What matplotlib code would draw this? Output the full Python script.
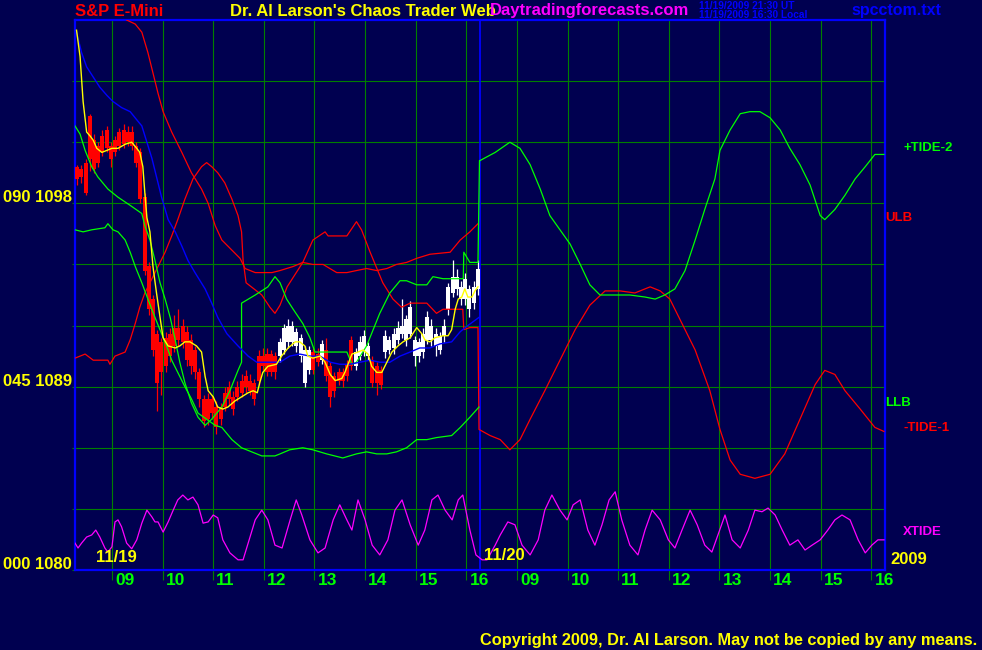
import numpy as np
import matplotlib.pyplot as plt
import matplotlib.transforms as mtransforms

W, H = 982, 650
NAVY = "#000050"
GRID = "#008000"
BLUE = "#0000ff"
RED = "#ff0000"
LIME = "#00ff00"
YEL = "#ffff00"
MAG = "#ff00ff"
FONT = "Liberation Sans"

# axis runs in hours: 11/19 session 08:16-16:16, 11/20 continues at +8
session_start = 8.27

# 5 minute bars of 11/19 (body top/bottom, wick high/low)
body_top = [1099.8, 1099.7, 1100.0, 1102.3, 1101.1, 1100.8, 1101.3, 1101.6, 1100.8, 1101.1, 1101.5, 1101.6,
            1101.5, 1101.5, 1100.8, 1100.5, 1098.3, 1094.9, 1093.3, 1091.6, 1091.2, 1091.4, 1091.6, 1091.9,
            1091.9, 1092.0, 1091.7, 1091.3, 1090.8, 1089.7, 1088.4, 1088.4, 1088.4, 1088.0, 1088.0, 1088.7,
            1089.0, 1088.5, 1089.0, 1089.3, 1089.5, 1089.3, 1089.2, 1090.5, 1090.5, 1090.6, 1090.6, 1090.5,
            1091.2, 1091.9, 1092.0, 1092.0, 1091.7, 1091.4, 1090.8, 1090.8, 1090.7, 1090.6, 1091.1, 1090.8,
            1090.0, 1089.5, 1089.7, 1089.7, 1090.1, 1091.3, 1090.7, 1091.2, 1091.5, 1091.0, 1090.3, 1090.0,
            1089.8, 1091.5, 1091.3, 1091.6, 1091.9, 1092.0, 1092.3, 1092.9, 1091.3, 1091.2, 1091.6, 1092.4,
            1092.0, 1091.6, 1091.5, 1092.0, 1093.9, 1094.4, 1094.4, 1093.9, 1094.3, 1093.8, 1093.9, 1094.8]
body_bot = [1099.2, 1099.3, 1098.5, 1100.2, 1099.7, 1100.0, 1100.5, 1100.7, 1100.2, 1100.5, 1100.8, 1100.9,
            1101.0, 1100.8, 1100.0, 1098.2, 1094.7, 1092.8, 1090.8, 1089.2, 1089.7, 1090.0, 1090.5, 1091.0,
            1091.3, 1091.2, 1090.3, 1090.0, 1089.7, 1088.4, 1087.3, 1087.4, 1087.7, 1087.0, 1087.4, 1088.0,
            1088.4, 1087.9, 1088.5, 1088.7, 1089.0, 1088.8, 1088.4, 1089.3, 1090.0, 1089.7, 1089.7, 1089.7,
            1090.5, 1090.8, 1091.2, 1091.2, 1091.0, 1090.5, 1089.2, 1089.8, 1089.8, 1090.2, 1090.3, 1089.5,
            1088.5, 1088.8, 1089.3, 1089.3, 1089.5, 1090.0, 1090.0, 1090.5, 1090.7, 1090.5, 1089.2, 1089.2,
            1089.1, 1090.7, 1090.8, 1090.9, 1091.3, 1091.6, 1091.3, 1091.6, 1090.5, 1090.5, 1090.7, 1091.3,
            1091.3, 1091.0, 1090.8, 1091.5, 1092.8, 1093.6, 1093.8, 1093.3, 1093.3, 1092.8, 1093.1, 1093.8]
wick_hi = [1099.9, 1099.9, 1100.2, 1102.4, 1101.4, 1101.0, 1101.6, 1101.8, 1101.0, 1101.3, 1101.7, 1101.9,
           1101.8, 1101.8, 1101.0, 1100.7, 1098.5, 1095.1, 1093.5, 1091.8, 1091.4, 1091.7, 1091.9, 1092.5,
           1092.8, 1092.3, 1092.0, 1091.6, 1091.0, 1089.9, 1088.6, 1088.7, 1088.6, 1088.3, 1088.2, 1089.0,
           1089.3, 1088.8, 1089.3, 1089.6, 1089.8, 1089.6, 1089.4, 1090.8, 1090.9, 1090.9, 1090.8, 1090.7,
           1091.4, 1092.1, 1092.3, 1092.2, 1091.9, 1091.6, 1091.0, 1091.0, 1090.9, 1090.9, 1091.3, 1091.4,
           1090.2, 1089.7, 1089.9, 1089.9, 1090.3, 1091.5, 1090.9, 1091.5, 1091.8, 1091.2, 1090.5, 1090.2,
           1090.0, 1091.8, 1091.5, 1091.9, 1092.2, 1093.3, 1092.5, 1093.2, 1091.5, 1091.4, 1091.9, 1092.7,
           1092.3, 1091.9, 1091.7, 1092.3, 1094.1, 1095.2, 1094.8, 1094.2, 1094.6, 1094.0, 1094.2, 1095.2]
wick_lo = [1098.9, 1099.0, 1098.4, 1099.6, 1099.5, 1099.8, 1100.3, 1100.5, 1099.8, 1100.3, 1100.6, 1100.7,
           1100.8, 1100.6, 1099.8, 1098.0, 1094.5, 1092.5, 1090.5, 1087.8, 1088.6, 1089.7, 1090.2, 1090.7,
           1091.0, 1090.9, 1090.0, 1089.6, 1089.4, 1088.0, 1087.0, 1087.1, 1087.4, 1086.7, 1087.1, 1087.8,
           1088.1, 1087.6, 1088.3, 1088.5, 1088.7, 1088.6, 1088.1, 1089.1, 1089.8, 1089.5, 1089.5, 1089.4,
           1090.2, 1090.6, 1090.9, 1091.0, 1090.7, 1090.2, 1089.0, 1089.6, 1089.6, 1090.0, 1090.1, 1089.3,
           1088.0, 1088.5, 1089.1, 1089.0, 1089.3, 1089.8, 1089.8, 1090.3, 1090.5, 1090.3, 1089.0, 1088.6,
           1088.9, 1090.4, 1090.6, 1090.6, 1091.1, 1091.4, 1091.0, 1091.4, 1090.0, 1090.2, 1090.4, 1091.1,
           1091.0, 1090.5, 1090.6, 1091.2, 1092.5, 1093.4, 1093.5, 1093.0, 1093.0, 1092.4, 1092.8, 1093.5]
bar_color = ("rrrrrrrrrrrr" "rrrrrrrrrrrr" "rrrrrrrrrrrr" "rrrrrrrrrrrr"
             "wwwwwwwwrrwr" "rrrrrrwwwwrr" "rwwwwwwwwwww" "wwwwwwwwwwww")

# fast average (yellow)
fast_t = [8.30, 8.37, 8.43, 8.50, 8.57, 8.63, 8.70, 8.80, 8.90, 9.00, 9.12, 9.26, 9.39, 9.49, 9.55, 9.61,
          9.65, 9.69, 9.75, 9.81, 9.88, 9.95, 10.01, 10.11, 10.25, 10.34, 10.44, 10.54, 10.67, 10.77, 10.84,
          10.90, 11.00, 11.09, 11.19, 11.29, 11.43, 11.56, 11.69, 11.79, 11.87, 11.92, 11.98, 12.08, 12.25,
          12.35, 12.48, 12.62, 12.71, 12.81, 12.87, 12.97, 13.11, 13.21, 13.31, 13.41, 13.54, 13.60, 13.74,
          13.86, 13.96, 14.06, 14.13, 14.23, 14.33, 14.43, 14.53, 14.65, 14.75, 14.89, 15.02, 15.12, 15.18,
          15.28, 15.38, 15.54, 15.64, 15.71, 15.78, 15.84, 15.91, 15.97, 16.03, 16.11, 16.17, 16.23]
fast_p = [1106.5, 1105.2, 1103.0, 1101.5, 1101.3, 1101.1, 1100.7, 1100.5, 1100.6, 1100.7, 1100.7, 1100.9,
          1101.0, 1100.7, 1100.5, 1099.8, 1098.5, 1097.3, 1096.6, 1094.9, 1093.6, 1092.4, 1091.4, 1091.0,
          1090.9, 1091.0, 1091.2, 1091.2, 1091.0, 1090.7, 1089.5, 1088.8, 1088.5, 1088.0, 1087.9, 1088.0,
          1088.3, 1088.5, 1088.7, 1088.8, 1088.7, 1089.2, 1089.7, 1090.0, 1090.1, 1090.5, 1090.9, 1091.2,
          1091.2, 1091.0, 1090.5, 1090.4, 1090.5, 1090.2, 1089.6, 1089.3, 1089.4, 1089.7, 1090.6, 1090.7,
          1090.8, 1090.6, 1090.0, 1089.7, 1089.7, 1090.2, 1090.7, 1091.0, 1091.2, 1091.4, 1091.9, 1091.6,
          1091.3, 1091.2, 1091.4, 1091.5, 1091.5, 1091.8, 1092.8, 1093.3, 1093.4, 1093.8, 1093.4, 1093.4,
          1093.7, 1093.9]

# slow average (blue)
slow_t = [8.30, 8.40, 8.50, 8.63, 8.76, 8.90, 9.02, 9.19, 9.36, 9.49, 9.59, 9.69, 9.79, 9.88, 9.98, 10.11,
          10.25, 10.38, 10.50, 10.64, 10.84, 10.97, 11.09, 11.27, 11.49, 11.69, 11.86, 12.08, 12.32, 12.51,
          12.71, 12.91, 13.11, 13.31, 13.50, 13.70, 13.90, 14.10, 14.29, 14.49, 14.69, 14.89, 15.08, 15.28,
          15.48, 15.71, 15.88, 16.03, 16.25]
slow_p = [1106.4, 1105.4, 1104.7, 1104.2, 1103.7, 1103.3, 1103.0, 1102.7, 1102.5, 1102.1, 1101.8, 1101.0,
          1100.2, 1099.3, 1098.3, 1097.2, 1096.6, 1095.9, 1095.2, 1094.6, 1093.8, 1093.1, 1092.4, 1091.6,
          1091.0, 1090.5, 1090.2, 1090.2, 1090.2, 1090.5, 1090.6, 1090.5, 1090.5, 1090.2, 1090.1, 1090.1,
          1090.2, 1090.3, 1090.2, 1090.2, 1090.5, 1090.7, 1090.9, 1090.9, 1091.1, 1091.2, 1091.7, 1092.0,
          1092.4]

# upper band (red, 11/19)
ulb_t = [9.29, 9.46, 9.59, 9.65, 9.71, 9.81, 9.91, 10.01, 10.18, 10.38, 10.57, 10.77, 10.90, 11.04, 11.17,
         11.37, 11.53, 11.63, 11.83, 12.16, 12.32, 12.58, 12.77, 12.97, 13.17, 13.44, 13.64, 13.83, 14.03,
         14.23, 14.43, 14.62, 14.82, 15.02, 15.28, 15.68, 15.88, 16.07, 16.23]
ulb_p = [1107.0, 1106.8, 1106.4, 1105.9, 1105.4, 1104.4, 1103.4, 1102.5, 1101.5, 1100.5, 1099.5, 1098.7,
         1098.0, 1096.9, 1096.2, 1095.7, 1095.3, 1094.8, 1094.6, 1094.6, 1094.7, 1094.9, 1095.1, 1095.0,
         1095.0, 1094.6, 1094.6, 1094.7, 1094.8, 1094.7, 1094.8, 1095.0, 1095.1, 1095.3, 1095.5, 1095.6,
         1096.2, 1096.6, 1097.0]

# lower band (green, 11/19)
llb_t = [8.27, 8.43, 8.60, 8.86, 8.92, 9.02, 9.12, 9.26, 9.36, 9.46, 9.59, 9.71, 9.85, 9.98, 10.08, 10.18,
         10.30, 10.44, 10.57, 10.70, 10.87, 11.04, 11.17, 11.37, 11.56, 11.76, 11.96, 12.22, 12.32, 12.51,
         12.77, 12.97, 13.24, 13.56, 13.83, 14.03, 14.23, 14.43, 14.62, 14.82, 15.02, 15.22, 15.41, 15.71,
         15.88, 16.07, 16.25]
llb_p = [1096.7, 1096.6, 1096.7, 1096.8, 1097.0, 1096.7, 1096.6, 1096.2, 1095.6, 1094.9, 1094.1, 1093.3,
         1092.4, 1091.6, 1091.0, 1090.3, 1089.7, 1089.0, 1088.4, 1087.7, 1087.4, 1087.1, 1087.0, 1086.4,
         1086.0, 1085.8, 1085.6, 1085.6, 1085.7, 1085.9, 1086.0, 1085.9, 1085.7, 1085.5, 1085.7, 1085.8,
         1085.7, 1085.7, 1085.8, 1086.0, 1086.4, 1086.4, 1086.5, 1086.6, 1087.0, 1087.5, 1088.0]

# -TIDE-1 (red), both days
tide1_t = [8.27, 8.47, 8.63, 8.92, 8.96, 9.06, 9.26, 9.36, 9.46, 9.55, 9.65, 9.79, 9.91, 10.05, 10.18,
           10.30, 10.44, 10.60, 10.77, 10.87, 10.97, 11.09, 11.23, 11.37, 11.49, 11.56, 11.59, 11.65, 11.96,
           12.12, 12.22, 12.32, 12.46, 12.77, 12.97, 13.21, 13.27, 13.64, 13.83, 13.93, 14.10, 14.35, 14.55,
           14.72, 14.89, 15.22, 15.41, 15.54, 15.93, 15.95, 16.07, 16.23, 16.25,
           16.47, 16.67, 16.86, 17.06, 17.26, 17.55, 17.85, 18.15, 18.44, 18.74, 19.04, 19.33, 19.63, 19.83,
           20.02, 20.22, 20.52, 20.81, 21.01, 21.21, 21.41, 21.70, 22.00, 22.29, 22.59, 22.89, 23.08, 23.28,
           23.48, 23.78, 24.07, 24.25]
tide1_p = [1090.4, 1090.6, 1090.3, 1090.3, 1090.1, 1090.5, 1090.7, 1091.3, 1092.1, 1092.9, 1093.6, 1094.3,
           1094.9, 1095.6, 1096.4, 1097.2, 1098.2, 1099.2, 1099.8, 1100.0, 1099.8, 1099.5, 1099.0, 1098.2,
           1097.4, 1096.6, 1095.2, 1094.1, 1093.5, 1092.9, 1092.6, 1093.0, 1093.9, 1095.1, 1096.2, 1096.6,
           1096.4, 1096.4, 1097.1, 1096.7, 1095.6, 1094.1, 1093.3, 1092.9, 1093.1, 1093.1, 1092.6, 1092.8,
           1092.8, 1091.8, 1091.9, 1091.9, 1086.9,
           1086.6, 1086.4, 1085.9, 1086.4, 1087.4, 1088.8, 1090.3, 1091.8, 1093.0, 1093.7, 1093.7, 1093.6,
           1093.9, 1093.7, 1093.3, 1092.3, 1090.8, 1088.8, 1086.9, 1085.4, 1084.7, 1084.5, 1084.7, 1085.7,
           1087.4, 1089.1, 1089.8, 1089.6, 1088.8, 1087.9, 1087.0, 1086.8]

# +TIDE-2 (green), both days
tide2_t = [8.27, 8.37, 8.47, 8.60, 8.72, 8.92, 9.12, 9.36, 9.59, 9.65, 9.75, 9.85, 9.95, 10.05, 10.15,
           10.25, 10.34, 10.44, 10.57, 10.70, 10.84, 10.97, 11.17, 11.33, 11.49, 11.56, 11.56, 11.83, 12.08,
           12.22, 12.32, 12.45, 12.58, 12.77, 12.91, 13.01, 13.11, 13.64, 13.74, 13.83, 14.03, 14.29, 14.49,
           14.69, 14.82, 15.02, 15.22, 15.34, 15.54, 15.94, 15.95, 16.07, 16.23, 16.26,
           16.27, 16.57, 16.86, 17.06, 17.26, 17.46, 17.65, 17.85, 18.05, 18.25, 18.44, 18.64, 18.94, 19.23,
           19.53, 19.73, 19.92, 20.12, 20.32, 20.52, 20.71, 20.91, 21.01, 21.21, 21.41, 21.60, 21.80, 22.00,
           22.20, 22.39, 22.59, 22.79, 22.99, 23.08, 23.28, 23.48, 23.68, 23.88, 24.07, 24.25]
tide2_p = [1101.8, 1101.4, 1100.6, 1099.8, 1099.3, 1098.7, 1098.3, 1097.9, 1097.5, 1096.9, 1096.2, 1095.2,
           1094.1, 1093.3, 1092.4, 1091.3, 1090.2, 1089.2, 1088.2, 1087.5, 1087.1, 1087.4, 1088.0, 1088.8,
           1089.8, 1090.2, 1093.1, 1093.5, 1093.9, 1094.4, 1094.1, 1093.3, 1092.8, 1092.1, 1091.4, 1090.7,
           1090.7, 1090.7, 1090.1, 1090.2, 1091.0, 1092.6, 1093.6, 1094.2, 1094.2, 1094.0, 1094.0, 1094.4,
           1094.3, 1094.3, 1095.6, 1095.1, 1095.1, 1100.1,
           1100.1, 1100.5, 1101.0, 1100.7, 1099.9, 1098.7, 1097.4, 1096.7, 1096.0, 1095.0, 1094.0, 1093.5,
           1093.5, 1093.5, 1093.4, 1093.3, 1093.5, 1093.8, 1094.7, 1096.2, 1097.7, 1099.2, 1100.6, 1101.6,
           1102.4, 1102.5, 1102.5, 1102.2, 1101.6, 1100.7, 1099.9, 1098.9, 1097.4, 1097.2, 1097.7, 1098.4,
           1099.2, 1099.8, 1100.4, 1100.4]

# XTIDE (magenta), on the 000-090 scale
xt_t = [8.27, 8.33, 8.40, 8.50, 8.60, 8.68, 8.76, 8.86, 8.92, 9.00, 9.06, 9.12, 9.19, 9.29, 9.39, 9.49,
        9.59, 9.69, 9.79, 9.85, 9.91, 10.01, 10.11, 10.21, 10.30, 10.40, 10.50, 10.60, 10.70, 10.80, 10.90,
        11.00, 11.09, 11.19, 11.33, 11.49, 11.59, 11.69, 11.83, 11.96, 12.08, 12.22, 12.36, 12.52, 12.64,
        12.75, 12.91, 13.07, 13.21, 13.37, 13.50, 13.64, 13.74, 13.86, 14.00, 14.14, 14.29, 14.45, 14.59,
        14.73, 14.89, 15.05, 15.18, 15.32, 15.44, 15.58, 15.72, 15.84, 15.93, 16.07, 16.19, 16.31, 16.41,
        16.57, 16.67, 16.82, 16.96, 17.10, 17.26, 17.42, 17.55, 17.69, 17.85, 17.99, 18.11, 18.25, 18.40,
        18.54, 18.68, 18.82, 18.94, 19.07, 19.23, 19.39, 19.53, 19.67, 19.83, 19.99, 20.12, 20.26, 20.42,
        20.56, 20.71, 20.85, 20.97, 21.11, 21.25, 21.41, 21.57, 21.70, 21.84, 21.96, 22.10, 22.24, 22.39,
        22.55, 22.69, 22.83, 22.99, 23.14, 23.28, 23.42, 23.58, 23.74, 23.88, 24.01, 24.13, 24.25]
xt_v = [6.6, 5.4, 6.6, 8.1, 8.6, 9.8, 8.1, 5.4, 4.4, 5.7, 11.8, 12.3, 10.6, 6.6, 5.2, 7.4,
        11.5, 14.7, 13.0, 11.8, 11.8, 9.3, 11.8, 14.7, 17.2, 18.4, 17.2, 17.9, 16.0, 11.5, 11.8,
        13.5, 12.8, 7.4, 4.2, 2.5, 2.5, 6.6, 12.3, 14.7, 12.3, 6.1, 5.4, 12.3, 17.2,
        13.5, 7.4, 4.2, 5.4, 12.3, 16.0, 12.3, 9.8, 17.2, 12.3, 6.1, 3.7, 7.4, 14.7,
        17.2, 11.1, 6.1, 9.8, 17.2, 18.4, 14.7, 12.3, 17.2, 18.4, 9.8, 3.7, 2.5, 2.5,
        6.1, 8.6, 11.8, 11.1, 6.1, 3.7, 7.4, 14.7, 18.4, 14.7, 12.3, 16.0, 17.2, 9.8,
        6.1, 11.1, 17.2, 19.2, 12.3, 6.1, 3.7, 9.8, 14.7, 12.3, 7.4, 5.4, 9.8, 14.7,
        11.1, 6.1, 4.4, 8.6, 13.5, 7.4, 5.4, 9.8, 14.7, 14.3, 15.2, 13.5, 9.8, 6.1,
        7.4, 4.9, 6.1, 7.4, 9.8, 12.3, 13.5, 12.3, 7.4, 4.2, 6.1, 7.4, 7.4]

hours = list(range(9, 17)) + list(range(17, 25))
hour_labels = ["09", "10", "11", "12", "13", "14", "15", "16"] * 2
scale_price = [1080, 1089, 1098]
scale_xtide = [0, 45, 90]

fig = plt.figure(figsize=(W / 100, H / 100), dpi=100, facecolor=NAVY)
ax = fig.add_axes([75 / W, 80 / H, 810 / W, 550 / H], facecolor=NAVY)
ax.set_xlim(session_start, session_start + 16)
ax.set_ylim(1080, 1107)
ax.set_xticks(hours)
ax.set_yticks(np.arange(1080, 1105, 3))
ax.grid(True, color=GRID, lw=0.8)
ax.set_axisbelow(True)
ax.tick_params(axis="x", length=7, width=0.8, color=GRID, labelbottom=False)
ax.tick_params(axis="y", length=2.5, width=0.8, color=GRID, labelleft=False)
for sp in ax.spines.values():
    sp.set_color(BLUE)
    sp.set_linewidth(1.6)
ax.axvline(session_start + 8, color=BLUE, lw=1.3, zorder=2)

bar_t = session_start + (np.arange(len(body_top)) + 0.5) / 12
cols = [RED if c == "r" else "#ffffff" for c in bar_color]
ax.vlines(bar_t, wick_lo, wick_hi, colors=cols, lw=0.9, zorder=3)
ax.vlines(bar_t, body_bot, body_top, colors=cols, lw=2.9, zorder=3)

ax.plot(ulb_t, ulb_p, color=RED, lw=0.9, zorder=4)
ax.plot(tide1_t, tide1_p, color=RED, lw=0.9, zorder=4)
ax.plot(llb_t, llb_p, color=LIME, lw=0.9, zorder=4)
ax.plot(tide2_t, tide2_p, color=LIME, lw=0.9, zorder=4)
ax.plot(slow_t, slow_p, color=BLUE, lw=1.0, zorder=5)
ax.plot(fast_t, fast_p, color=YEL, lw=1.0, zorder=6)

ax2 = ax.twinx()
ax2.set_ylim(0, 135)
ax2.set_axis_off()
ax2.plot(xt_t, xt_v, color=MAG, lw=0.9)

# left scale labels
ytr = mtransforms.blended_transform_factory(ax.transAxes, ax.transData)
for xv, pv in zip(scale_xtide, scale_price):
    ax.text(-0.004, pv + 0.05, f"{xv:03d} {pv}", transform=ytr, ha="right", va="baseline",
            color=YEL, fontsize=12, fontweight="bold", family=FONT)

# hour labels under the ticks
for h, lab in zip(hours, hour_labels):
    ax.annotate(lab, xy=(h, 0), xycoords=("data", "axes fraction"), xytext=(2.2, -7.5),
                textcoords="offset points", ha="left", va="center",
                color=LIME, fontsize=12.5, fontweight="bold", family=FONT)


def ftext(px, py, s, color, size, **kw):
    fig.text(px / W, 1 - py / H, s, color=color, fontsize=size, ha="left", va="center",
             fontweight="bold", family=FONT, **kw)


ftext(75, 11, "S&P E-Mini", RED, 12)
ftext(230, 11, "Dr. Al Larson's Chaos Trader Web", YEL, 12)
ftext(490, 11, "Daytradingforecasts.com", MAG, 12, zorder=5)
ftext(699, 6, "11/19/2009 21:30 UT", BLUE, 7.3)
ftext(699, 15, "11/19/2009 16:30 Local", BLUE, 7.3)
ftext(851, 10, "spcctom.txt", BLUE, 11.5)

ftext(96, 558, "11/19", YEL, 12)
ftext(484, 556, "11/20", YEL, 12)
ftext(890, 560, "2009", YEL, 12)

ftext(903, 148, "+TIDE-2", LIME, 9.5)
ftext(885, 218, "ULB", RED, 9.5)
ftext(885, 403, "LLB", LIME, 9.5)
ftext(903, 428, "-TIDE-1", RED, 9.5)
ftext(903, 532, "XTIDE", MAG, 9.5)

ftext(480, 640, "Copyright 2009, Dr. Al Larson. May not be copied by any means.", YEL, 11.8)

fig.savefig("out.png", dpi=100, facecolor=NAVY)
